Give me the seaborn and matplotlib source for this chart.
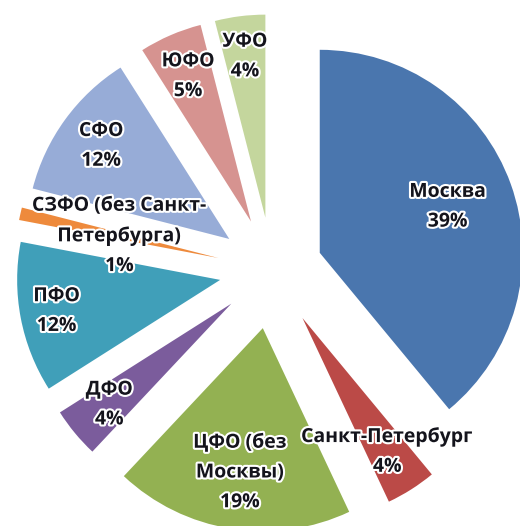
import matplotlib
matplotlib.use("Agg")
import numpy as np
import seaborn as sns
import matplotlib.pyplot as plt
import matplotlib.patheffects as pe

# shares by federal district, clockwise from 12 o'clock
labels = ['Москва', 'Санкт-Петербург', 'ЦФО (без\nМосквы)', 'ДФО', 'ПФО',
          'СЗФО (без Санкт-\nПетербурга)', 'СФО', 'ЮФО', 'УФО']
shares = [39, 4, 19, 4, 12, 1, 12, 5, 4]
colors = ['#4a76ae', '#bb4a47', '#93b152', '#7b5c9c', '#409fb9',
          '#ee8a3c', '#97acd7', '#d69390', '#c4d69d']

# layout: how far each slice is pulled out, and where its label sits
explode = [0.25, 0.28, 0.29, 0.26, 0.26, 0.27, 0.26, 0.26, 0.26]
label_dist = [0.67, 0.78, 0.72, 0.78, 0.82, 0.50, 0.78, 0.78, 0.80]

sns.set_theme(style="white")
plt.rcParams['font.family'] = ['Open Sans', 'DejaVu Sans']

fig = plt.figure(figsize=(5.20, 5.26), dpi=100)
ax = fig.add_axes([0, 0, 1, 1])

wedges, _ = ax.pie(shares, colors=sns.color_palette(colors), explode=explode,
                   startangle=90, counterclock=False,
                   wedgeprops=dict(linewidth=0))

for w, lab, val, d in zip(wedges, labels, shares, label_dist):
    ang = np.deg2rad((w.theta1 + w.theta2) / 2)
    cx, cy = w.center
    x = cx + d * w.r * np.cos(ang)
    y = cy + d * w.r * np.sin(ang)
    ax.text(x, y, f'{lab}\n{val}%', ha='center', va='center',
            fontsize=14, fontweight='bold', color='#14141c',
            linespacing=1.65,
            path_effects=[pe.withStroke(linewidth=3, foreground='white')])

px = 203.0
ax.set_xlim(-272 / px, 248 / px)
ax.set_ylim(-(526 - 270) / px, 270 / px)
ax.set_aspect('equal')
ax.axis('off')

fig.savefig('out.png', dpi=100)
